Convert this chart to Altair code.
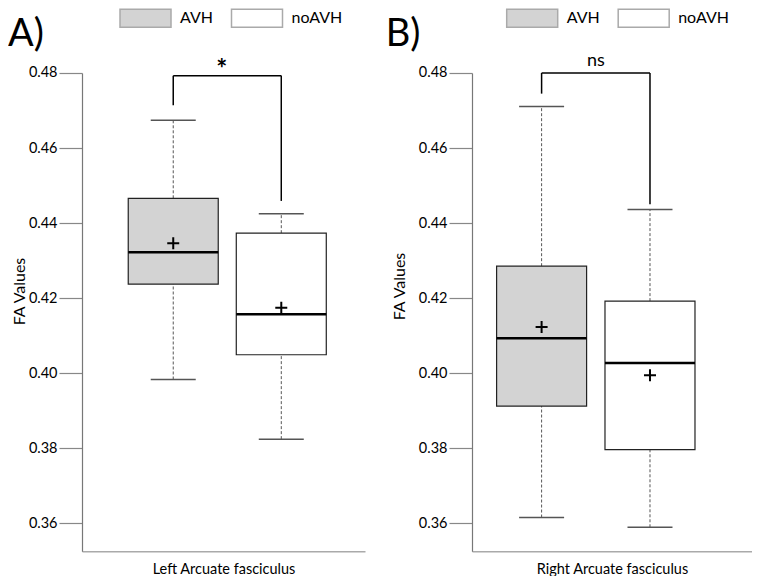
import altair as alt
import pandas as pd

# ---------------- data ----------------
groups = ["AVH", "noAVH"]
positions = [1, 2]
fill_colors = ["#d3d3d3", "#ffffff"]

# Left Arcuate fasciculus
left_low = [0.3983, 0.3824]
left_q1 = [0.4237, 0.4049]
left_median = [0.4322, 0.4157]
left_q3 = [0.4466, 0.4373]
left_high = [0.4674, 0.4425]
left_mean = [0.4346, 0.4174]
left_bracket = [0.4714, 0.4793, 0.4459]   # left leg end, top, right leg end
left_sig = "*"
left_sig_pos = [1.45, 0.4807]

# Right Arcuate fasciculus
right_low = [0.3615, 0.3589]
right_q1 = [0.3912, 0.3796]
right_median = [0.4093, 0.4027]
right_q3 = [0.4285, 0.4192]
right_high = [0.4711, 0.4436]
right_mean = [0.4123, 0.3994]
right_bracket = [0.4745, 0.4800, 0.4450]
right_sig = "ns"
right_sig_pos = [1.5, 0.4832]

y_ticks = [0.36, 0.38, 0.40, 0.42, 0.44, 0.46, 0.48]
y_domain = [0.3525, 0.48]

FONT = "Lato"
# legend swatch: 51 x 18 px rectangle drawn to the right of the symbol anchor
RECT = "M-1,-1L4.667,-1L4.667,1L-1,1Z"
PLUS = "M-1,0L1,0M0,-1L0,1"


def panel(letter, xtitle, low, q1, med, q3, high, mean, bracket, sig, sig_pos,
          xdomain, width, ytitle_x, ytitle_y, legend_x, legend_pad, sig_size, sig_weight):
    box = pd.DataFrame({"group": groups, "pos": positions, "low": low, "q1": q1,
                        "med": med, "q3": q3, "high": high, "mean": mean})
    br = pd.DataFrame({"x": [positions[0], positions[0], positions[1]],
                       "x2": [positions[0], positions[1], positions[1]],
                       "y": [bracket[0], bracket[1], bracket[1]],
                       "y2": [bracket[1], bracket[1], bracket[2]]})
    lab = pd.DataFrame({"label": [sig], "x": [sig_pos[0]], "y": [sig_pos[1]]})

    xscale = alt.Scale(domain=xdomain, nice=False, zero=False)
    yscale = alt.Scale(domain=y_domain, nice=False, zero=False)
    xaxis = alt.Axis(title=xtitle, labels=False, ticks=False, grid=False,
                     domainColor="#aaaaaa", domainWidth=1.5,
                     titleFont=FONT, titleFontSize=14.5, titleFontWeight="normal",
                     titleColor="black", titlePadding=11)
    yaxis = alt.Axis(title="FA Values", values=y_ticks, format=".2f", grid=False,
                     tickSize=23, tickColor="#888888", tickWidth=1.2,
                     domainColor="#777777", domainWidth=1.2,
                     labelFont=FONT, labelFontSize=14.5, labelColor="black",
                     labelPadding=2, titleFont=FONT, titleFontSize=16,
                     titleFontWeight="normal", titleColor="black",
                     titleX=ytitle_x, titleY=ytitle_y)

    def X(f):
        return alt.X(f"{f}:Q", scale=xscale, axis=xaxis)

    def Y(f):
        return alt.Y(f"{f}:Q", scale=yscale, axis=yaxis)

    base = alt.Chart(box)
    whisk_up = base.mark_rule(color="#555555", strokeDash=[3, 2], strokeWidth=1).encode(
        x=X("pos"), y=Y("q3"), y2="high:Q")
    whisk_dn = base.mark_rule(color="#555555", strokeDash=[3, 2], strokeWidth=1).encode(
        x=X("pos"), y=Y("low"), y2="q1:Q")
    bars = base.mark_bar(size=90, stroke="#222222", strokeWidth=1.2, opacity=1).encode(
        x=X("pos"), y=Y("q1"), y2="q3:Q",
        color=alt.Color("group:N",
                        scale=alt.Scale(domain=groups, range=fill_colors),
                        legend=alt.Legend(
                            title=letter, orient="none", legendX=legend_x, legendY=-64.7,
                            direction="horizontal", titleOrient="left", titleAnchor="start",
                            titleFont=FONT, titleFontSize=38, titleFontWeight="normal",
                            titleColor="black", titleBaseline="line-top", titleLineHeight=54,
                            titlePadding=legend_pad,
                            symbolType=RECT, symbolSize=324, symbolStrokeColor="#aaaaaa",
                            symbolStrokeWidth=1.5, symbolOpacity=1,
                            labelFont=FONT, labelFontSize=16, labelColor="black",
                            labelOffset=41, columnPadding=14.5, padding=0, offset=0)))
    cap_hi = base.mark_tick(orient="horizontal", size=45, thickness=1.5, color="#555555", opacity=1).encode(
        x=X("pos"), y=Y("high"))
    cap_lo = base.mark_tick(orient="horizontal", size=45, thickness=1.5, color="#555555", opacity=1).encode(
        x=X("pos"), y=Y("low"))
    medians = base.mark_tick(orient="horizontal", size=90, thickness=2.5, color="black", opacity=1).encode(
        x=X("pos"), y=Y("med"))
    means = base.mark_point(shape=PLUS, size=144, stroke="black", strokeWidth=2,
                            filled=False, opacity=1).encode(x=X("pos"), y=Y("mean"))
    brackets = alt.Chart(br).mark_rule(color="black", strokeWidth=1.5).encode(
        x=X("x"), x2="x2:Q", y=Y("y"), y2="y2:Q")
    sig_text = alt.Chart(lab).mark_text(font=FONT, fontSize=sig_size, fontWeight=sig_weight,
                                        color="black", baseline="middle").encode(
        x=X("x"), y=Y("y"), text="label:N")

    return alt.layer(whisk_up, whisk_dn, bars, cap_hi, cap_lo, medians, means,
                     brackets, sig_text).properties(width=width, height=478.3)


left = panel("A)", "Left Arcuate fasciculus", left_low, left_q1, left_median, left_q3,
             left_high, left_mean, left_bracket, left_sig, left_sig_pos,
             [0.2018, 2.7286], 283, -54.5, 218, -74, 75, 26, "bold")
right = panel("B)", "Right Arcuate fasciculus", right_low, right_q1, right_median, right_q3,
              right_high, right_mean, right_bracket, right_sig, right_sig_pos,
              [0.404, 2.895], 280, -64.9, 213, -86.3, 85, 18, "normal")

chart = alt.hconcat(left, right, spacing=107, bounds="flush").resolve_legend(
    color="independent").properties(padding=0).configure(font=FONT).configure_view(
    stroke=None, strokeWidth=0)

chart.save("out.html", embed_options={"renderer": "svg", "actions": False})
